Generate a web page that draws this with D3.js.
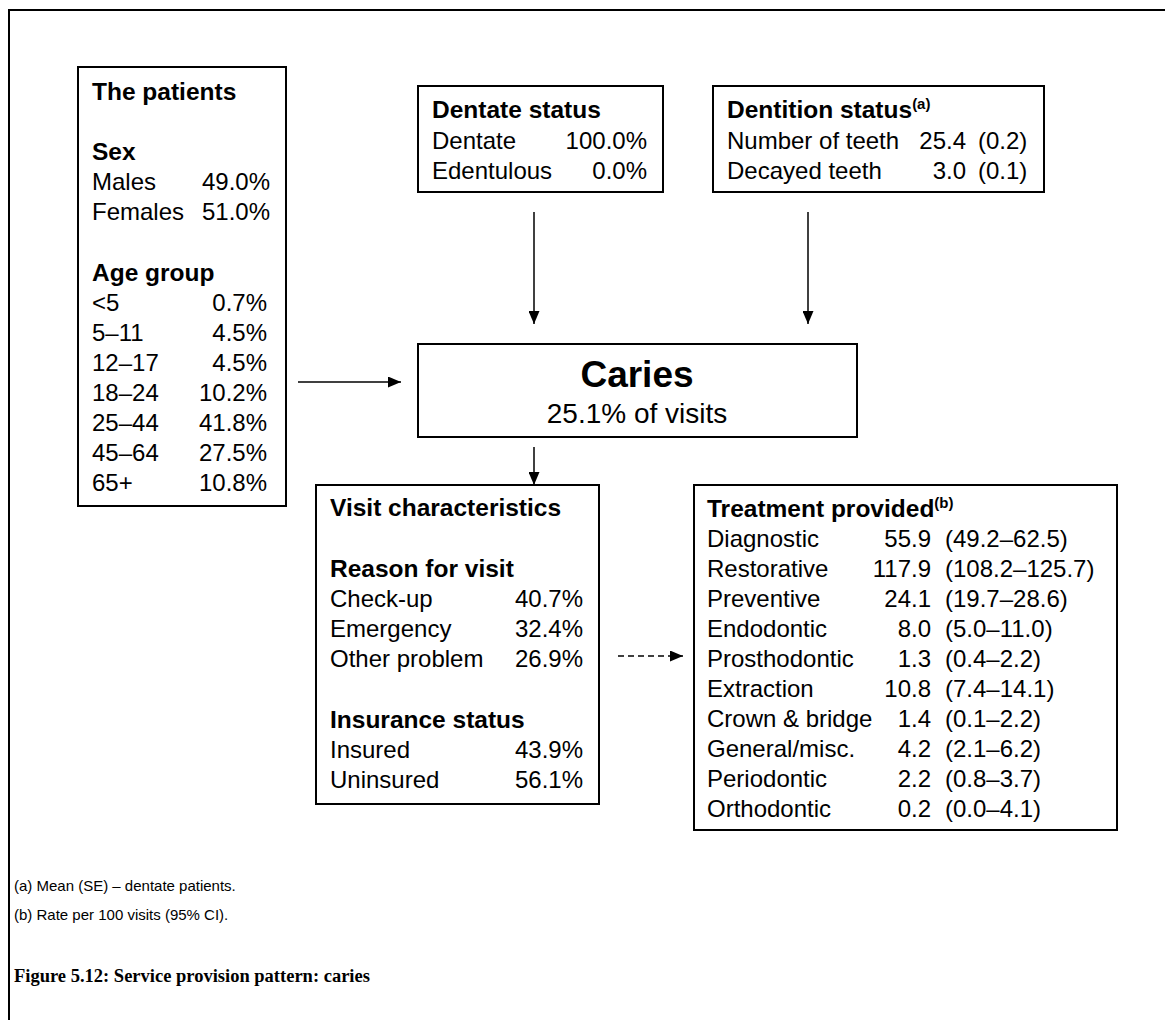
<!DOCTYPE html>
<html>
<head>
<meta charset="utf-8">
<script src="https://cdn.jsdelivr.net/npm/d3@7"></script>
<style>
    html, body { margin: 0; padding: 0; background: #fff; }
    svg { display: block; }
    text { font-family: "Liberation Sans", Arial, sans-serif; fill: #000; }
    .bold { font-weight: bold; }
</style>
</head>
<body>
<div id="chart"></div>
<script>
    'use strict';

    // --- data ---
    var sexLabels = ['Males', 'Females'];
    var sexShares = [49.0, 51.0];

    var ageLabels = ['<5', '5–11', '12–17', '18–24', '25–44', '45–64', '65+'];
    var ageShares = [0.7, 4.5, 4.5, 10.2, 41.8, 27.5, 10.8];

    var dentateLabels = ['Dentate', 'Edentulous'];
    var dentateShares = [100.0, 0.0];

    var dentitionLabels = ['Number of teeth', 'Decayed teeth'];
    var dentitionMeans = [25.4, 3.0];
    var dentitionSE = [0.2, 0.1];

    var problemName = 'Caries';
    var problemShare = 25.1;

    var reasonLabels = ['Check-up', 'Emergency', 'Other problem'];
    var reasonShares = [40.7, 32.4, 26.9];

    var insuranceLabels = ['Insured', 'Uninsured'];
    var insuranceShares = [43.9, 56.1];

    var treatmentLabels = ['Diagnostic', 'Restorative', 'Preventive', 'Endodontic', 'Prosthodontic',
        'Extraction', 'Crown & bridge', 'General/misc.', 'Periodontic', 'Orthodontic'];
    var treatmentRates = [55.9, 117.9, 24.1, 8.0, 1.3, 10.8, 1.4, 4.2, 2.2, 0.2];
    var treatmentLow = [49.2, 108.2, 19.7, 5.0, 0.4, 7.4, 0.1, 2.1, 0.8, 0.0];
    var treatmentHigh = [62.5, 125.7, 28.6, 11.0, 2.2, 14.1, 2.2, 6.2, 3.7, 4.1];

    var footnotes = ['(a) Mean (SE) – dentate patients.', '(b) Rate per 100 visits (95% CI).'];
    var figureTitle = 'Figure 5.12: Service provision pattern: caries';

    var width = 1165;
    var height = 1020;
    var fontSize = 24;
    var rowStep = 30;

    var f1 = d3.format('.1f');
    function pct(v) { return f1(v) + '%'; }

    var svg = d3.select('#chart').append('svg')
        .attr('width', width)
        .attr('height', height);

    var defs = svg.append('defs');
    defs.append('marker')
        .attr('id', 'head')
        .attr('viewBox', '0 0 13 11')
        .attr('refX', 13)
        .attr('refY', 5.5)
        .attr('markerWidth', 13)
        .attr('markerHeight', 11)
        .attr('markerUnits', 'userSpaceOnUse')
        .attr('orient', 'auto')
        .append('path')
        .attr('d', 'M0,0L13,5.5L0,11Z')
        .attr('fill', '#000');

    // outer frame (only top and left edges show in the crop)
    svg.append('path')
        .attr('d', 'M9,' + height + 'V10H' + width)
        .attr('fill', 'none')
        .attr('stroke', '#000')
        .attr('stroke-width', 2);

    function box(x0, y0, x1, y1) {
        svg.append('rect')
            .attr('x', x0).attr('y', y0)
            .attr('width', x1 - x0).attr('height', y1 - y0)
            .attr('fill', '#fff')
            .attr('stroke', '#000')
            .attr('stroke-width', 2);
    }

    function heading(x, y, label, sup) {
        var t = svg.append('text')
            .attr('class', 'bold')
            .attr('x', x).attr('y', y)
            .style('font-size', (fontSize + 0.5) + 'px')
            .text(label);
        if (sup) {
            t.append('tspan')
                .attr('dy', -9)
                .style('font-size', '15px')
                .text(sup);
        }
    }

    // rows of label + right-aligned value(s), positioned with a linear row scale
    function rows(labels, cols, xLabel, y0) {
        var y = d3.scaleLinear().domain([0, 1]).range([y0, y0 + rowStep]);
        var g = svg.append('g').style('font-size', fontSize + 'px');
        var row = g.selectAll('g.row').data(labels).enter().append('g').attr('class', 'row');
        row.append('text')
            .attr('x', xLabel)
            .attr('y', function(d, i) { return y(i); })
            .text(function(d) { return d; });
        cols.forEach(function(col) {
            row.append('text')
                .attr('x', col.x)
                .attr('y', function(d, i) { return y(i); })
                .attr('text-anchor', col.anchor)
                .text(function(d, i) { return col.text(i); });
        });
    }

    function arrow(x1, y1, x2, y2, dashed) {
        svg.append('line')
            .attr('x1', x1).attr('y1', y1)
            .attr('x2', x2).attr('y2', y2)
            .attr('stroke', '#000')
            .attr('stroke-width', 1.5)
            .attr('stroke-dasharray', dashed ? '6,4' : null)
            .attr('marker-end', 'url(#head)');
    }

    // The patients
    box(78, 67, 286, 506);
    heading(92, 100, 'The patients');
    heading(92, 160, 'Sex');
    rows(sexLabels, [{ x: 270, anchor: 'end', text: function(i) { return pct(sexShares[i]); } }], 92, 190);
    heading(92, 281, 'Age group');
    rows(ageLabels, [{ x: 267, anchor: 'end', text: function(i) { return pct(ageShares[i]); } }], 92, 311);

    // Dentate status
    box(418, 86, 663, 192);
    heading(432, 118, 'Dentate status');
    rows(dentateLabels, [{ x: 647, anchor: 'end', text: function(i) { return pct(dentateShares[i]); } }], 432, 149);

    // Dentition status
    box(713, 86, 1044, 192);
    heading(727, 118, 'Dentition status', '(a)');
    rows(dentitionLabels, [
        { x: 966, anchor: 'end', text: function(i) { return f1(dentitionMeans[i]); } },
        { x: 978, anchor: 'start', text: function(i) { return '(' + f1(dentitionSE[i]) + ')'; } }
    ], 727, 149);

    // central problem box
    box(418, 344, 857, 437);
    svg.append('text')
        .attr('class', 'bold')
        .attr('x', 637).attr('y', 387)
        .attr('text-anchor', 'middle')
        .style('font-size', '37px')
        .text(problemName);
    svg.append('text')
        .attr('x', 637).attr('y', 423)
        .attr('text-anchor', 'middle')
        .style('font-size', '28px')
        .text(pct(problemShare) + ' of visits');

    // Visit characteristics
    box(316, 485, 599, 804);
    heading(330, 516, 'Visit characteristics');
    heading(330, 577, 'Reason for visit');
    rows(reasonLabels, [{ x: 583, anchor: 'end', text: function(i) { return pct(reasonShares[i]); } }], 330, 607);
    heading(330, 728, 'Insurance status');
    rows(insuranceLabels, [{ x: 583, anchor: 'end', text: function(i) { return pct(insuranceShares[i]); } }], 330, 758);

    // Treatment provided
    box(694, 485, 1117, 830);
    heading(707, 517, 'Treatment provided', '(b)');
    rows(treatmentLabels, [
        { x: 931, anchor: 'end', text: function(i) { return f1(treatmentRates[i]); } },
        { x: 945, anchor: 'start', text: function(i) {
            return '(' + f1(treatmentLow[i]) + '–' + f1(treatmentHigh[i]) + ')';
        } }
    ], 707, 547);

    // arrows
    arrow(534, 212, 534, 324);
    arrow(808, 212, 808, 324);
    arrow(298, 382, 401, 382);
    arrow(534, 447, 534, 485);
    arrow(618, 656, 683, 656, true);

    // footnotes and caption
    svg.selectAll('text.note').data(footnotes).enter().append('text')
        .attr('class', 'note')
        .attr('x', 14)
        .attr('y', function(d, i) { return 891 + i * 29; })
        .style('font-size', '15px')
        .text(function(d) { return d; });

    svg.append('text')
        .attr('x', 14).attr('y', 982)
        .style('font-family', '"Liberation Serif", "Times New Roman", serif')
        .style('font-weight', 'bold')
        .style('font-size', '18.5px')
        .text(figureTitle);
</script>
</body>
</html>
